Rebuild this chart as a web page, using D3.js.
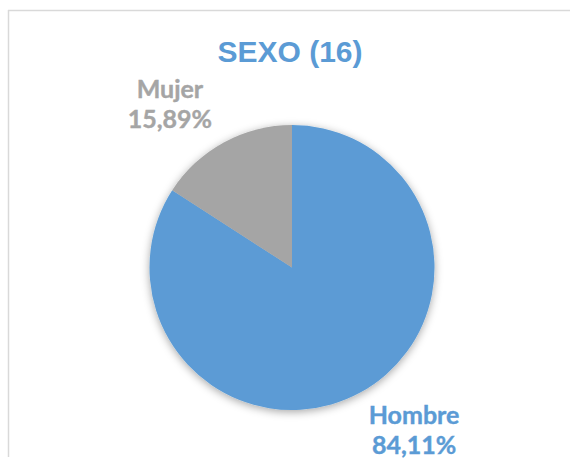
<!DOCTYPE html>
<html>
<head>
<meta charset="utf-8">
<script src="https://cdn.jsdelivr.net/npm/d3@7"></script>
<style>
  html, body { margin: 0; padding: 0; background: #fff; }
  svg { display: block; }
</style>
</head>
<body>
<script>
const categories = ["Hombre", "Mujer"];
const values = [84.11, 15.89];
const colors = ["#5B9BD5", "#A5A5A5"];
const title = "SEXO (16)";

const W = 570, H = 458;
const cx = 292, cy = 267.5, R = 142.5;

const svg = d3.select("body").append("svg").attr("width", W).attr("height", H);

const defs = svg.append("defs");
const f = defs.append("filter").attr("id", "shadow")
  .attr("x", "-20%").attr("y", "-20%").attr("width", "140%").attr("height", "140%");
f.append("feDropShadow").attr("dx", 0).attr("dy", 2).attr("stdDeviation", 4)
  .attr("flood-color", "#000").attr("flood-opacity", 0.35);

// chart area border (top and left visible)
svg.append("line").attr("x1", 8).attr("y1", 10.5).attr("x2", W).attr("y2", 10.5)
  .attr("stroke", "#D9D9D9").attr("stroke-width", 1.5);
svg.append("line").attr("x1", 8.5).attr("y1", 10).attr("x2", 8.5).attr("y2", H - 1)
  .attr("stroke", "#D9D9D9").attr("stroke-width", 1.5);

svg.append("text")
  .attr("x", 290).attr("y", 62)
  .attr("text-anchor", "middle")
  .attr("font-family", "'Liberation Sans', Arial, sans-serif")
  .attr("font-weight", "bold")
  .attr("font-size", 30)
  .attr("fill", "#5B9BD5")
  .text(title);

const data = categories.map((c, i) => ({ name: c, value: values[i], color: colors[i] }));
const pie = d3.pie().sort(null).value(d => d.value);
const arcs = pie(data);
const arc = d3.arc().innerRadius(0).outerRadius(R);

const g = svg.append("g").attr("transform", `translate(${cx},${cy})`);
g.append("g").attr("filter", "url(#shadow)")
  .selectAll("path").data(arcs).join("path")
  .attr("d", arc)
  .attr("fill", d => d.data.color);

const loc = d3.formatLocale({ decimal: ",", thousands: ".", grouping: [3], currency: ["", "€"] });
const fmt = loc.format(".2f");

const labelRx = 255, labelRy = 186;
arcs.forEach(a => {
  const mid = (a.startAngle + a.endAngle) / 2;
  const x = labelRx * Math.sin(mid);
  const yMid = -labelRy * Math.cos(mid);
  const t = g.append("text")
    .attr("text-anchor", "middle")
    .attr("font-family", "Lato, 'Open Sans', sans-serif")
    .attr("font-weight", "bold")
    .attr("font-size", 25)
    .attr("fill", a.data.color)
    .attr("stroke", a.data.color)
    .attr("stroke-width", 0.4);
  t.append("tspan").attr("x", x).attr("y", yMid - 6.5).text(a.data.name);
  t.append("tspan").attr("x", x).attr("y", yMid + 23.5).text(fmt(a.data.value) + "%");
});
</script>
</body>
</html>
